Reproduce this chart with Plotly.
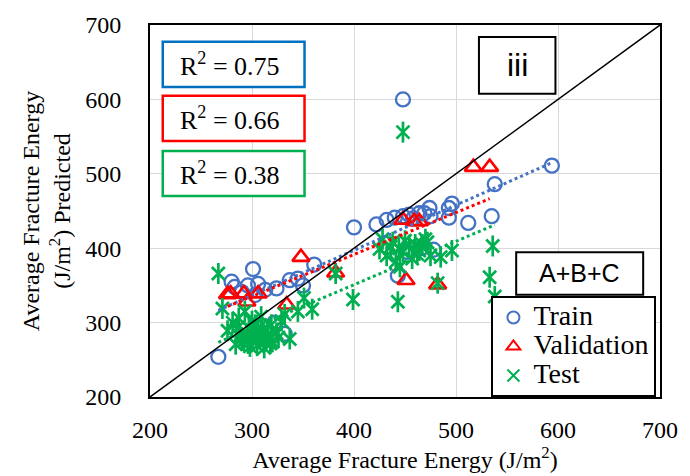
import numpy as np
import plotly.graph_objects as go

axis_range = [200, 700]
ticks = [200, 300, 400, 500, 600, 700]
series_names = ["Train", "Validation", "Test"]

train_x = [267, 280, 290, 301, 303, 313, 324, 337, 345, 350, 322, 332, 361, 400, 422, 432, 440, 448, 454,
           443, 448, 464, 469, 474, 475, 493, 493, 496, 512, 535, 538, 594, 458,
           283, 296, 306, 452, 466, 478]
train_y = [254, 355, 341, 372, 337, 344, 346, 357, 359, 350, 300, 285, 378, 428, 432, 438, 441, 443, 445,
           363, 600, 447, 447, 454, 443, 454, 441, 460, 434, 443, 486, 511, 440,
           348, 350, 352, 395, 400, 398]

val_x = [276, 279, 292, 306, 295, 334, 348, 382, 448, 459, 464, 451, 482, 517, 533]
val_y = [338, 339, 339, 339, 328, 324, 388, 367, 438, 436, 436, 357, 351, 509, 509]

test_x = [267, 271, 276, 281, 284, 287, 290, 293, 297, 300, 301, 305, 306, 309, 313, 316, 319, 326, 329,
          332, 337, 345, 351, 359, 382, 399, 425, 428, 432, 438, 441, 443, 445, 448, 448, 454, 457, 464,
          467, 472, 475, 482, 485, 496, 533, 536, 538, 295, 310, 303, 285, 318, 300, 308,
          298, 312, 320, 292, 302, 306, 296, 314, 288, 324,
          450, 460, 444, 470, 436, 462]
test_y = [366, 319, 289, 300, 271, 306, 280, 315, 293, 302, 280, 269, 289, 308, 275, 284, 297, 280, 302,
          311, 278, 315, 333, 318, 366, 331, 399, 412, 390, 408, 382, 328, 375, 395, 556, 404, 386, 397,
          405, 408, 390, 353, 388, 397, 361, 403, 335, 285, 290, 297, 292, 272, 276, 280,
          268, 266, 274, 276, 284, 278, 272, 281, 282, 286,
          410, 405, 400, 412, 402, 392]

r2_labels = ["R<sup>2</sup> = 0.75", "R<sup>2</sup> = 0.66", "R<sup>2</sup> = 0.38"]

BLUE = "#4472C4"
RED = "#FF0000"
GREEN = "#00B050"
SERIF = "Times New Roman, Liberation Serif, serif"
SANS = "Arial, Liberation Sans, sans-serif"


def legend_name(s):
    return '<span style="font-size:28px">' + s + '</span>'


fig = go.Figure()

fig.add_trace(go.Scatter(x=train_x, y=train_y, mode="markers", name=legend_name(series_names[0]),
                         marker=dict(symbol="circle-open", size=14, color=BLUE, line=dict(width=2.3, color=BLUE))))
fig.add_trace(go.Scatter(x=val_x, y=val_y, mode="markers", name=legend_name(series_names[1]),
                         marker=dict(symbol="triangle-up-open", size=15, color=RED, line=dict(width=2.6, color=RED))))
fig.add_trace(go.Scatter(x=test_x, y=test_y, mode="markers", name=legend_name(series_names[2]), legendgroup="test",
                         marker=dict(symbol="x-thin-open", size=13, color=GREEN, line=dict(width=2.7, color=GREEN))))
fig.add_trace(go.Scatter(x=test_x, y=test_y, mode="markers", name=series_names[2], legendgroup="test",
                         showlegend=False,
                         marker=dict(symbol="line-ns-open", size=15, color=GREEN, line=dict(width=2.7, color=GREEN))))


def trend(xs, ys, color):
    xs = np.array(xs, float)
    ys = np.array(ys, float)
    m, b = np.polyfit(xs, ys, 1)
    xe = np.array([xs.min(), xs.max()])
    fig.add_trace(go.Scatter(x=xe, y=m * xe + b, mode="lines", showlegend=False, hoverinfo="skip",
                             line=dict(color=color, width=3, dash="dot")))


trend(train_x, train_y, BLUE)
trend(val_x, val_y, RED)
trend(test_x, test_y, GREEN)

fig.add_trace(go.Scatter(x=axis_range, y=axis_range, mode="lines", showlegend=False, hoverinfo="skip",
                         line=dict(color="black", width=1.5)))

shapes = []
annotations = []
box_colors = ["#0070C0", RED, GREEN]
box_y = [(0.955, 0.833), (0.810, 0.688), (0.661, 0.540)]
for lab, col, (y1, y0) in zip(r2_labels, box_colors, box_y):
    shapes.append(dict(type="rect", xref="paper", yref="paper", x0=0.025, x1=0.303, y0=y0, y1=y1,
                       line=dict(color=col, width=2.5), fillcolor="white", layer="above"))
    annotations.append(dict(xref="paper", yref="paper", x=0.157, y=(y0 + y1) / 2, text=lab, showarrow=False,
                            font=dict(family=SERIF, size=26, color="black"), xanchor="center", yanchor="middle"))

shapes.append(dict(type="rect", xref="paper", yref="paper", x0=0.645, x1=0.795, y0=0.815, y1=0.968,
                   line=dict(color="black", width=2), fillcolor="white", layer="above"))
annotations.append(dict(xref="paper", yref="paper", x=0.72, y=0.8915, text="iii", showarrow=False,
                        font=dict(family=SANS, size=32, color="black"), xanchor="center", yanchor="middle"))
shapes.append(dict(type="rect", xref="paper", yref="paper", x0=0.718, x1=0.967, y0=0.275, y1=0.389,
                   line=dict(color="black", width=2), fillcolor="white", layer="above"))
annotations.append(dict(xref="paper", yref="paper", x=0.8425, y=0.332, text="A+B+C", showarrow=False,
                        font=dict(family=SANS, size=25, color="black"), xanchor="center", yanchor="middle"))

fig.update_layout(
    width=690, height=476,
    margin=dict(l=150, r=22, t=19, b=79),
    paper_bgcolor="white", plot_bgcolor="white",
    font=dict(family=SERIF, size=24, color="black"),
    shapes=shapes, annotations=annotations,
    legend=dict(x=0.993, y=0.0, xanchor="right", yanchor="bottom", bgcolor="white",
                bordercolor="black", borderwidth=2, font=dict(family=SERIF, size=20, color="black"),
                tracegroupgap=0, itemsizing="constant", itemwidth=30),
    showlegend=True,
)
fig.update_xaxes(range=axis_range, tickvals=ticks, showgrid=True, gridcolor="#D9D9D9", gridwidth=1,
                 showline=True, linecolor="black", linewidth=2, mirror=True, zeroline=False, ticks="",
                 ticklabelstandoff=10,
                 title=dict(text="Average Fracture Energy (J/m<sup>2</sup>)", standoff=2,
                            font=dict(family=SERIF, size=24)))
fig.update_yaxes(range=axis_range, tickvals=ticks, showgrid=True, gridcolor="#D9D9D9", gridwidth=1,
                 showline=True, linecolor="black", linewidth=2, mirror=True, zeroline=False, ticks="",
                 ticklabelstandoff=22,
                 title=dict(text="Average Fracture Energy<br>(J/m<sup>2</sup>) Predicted", standoff=8,
                            font=dict(family=SERIF, size=24)))

fig.write_html("out.html")
